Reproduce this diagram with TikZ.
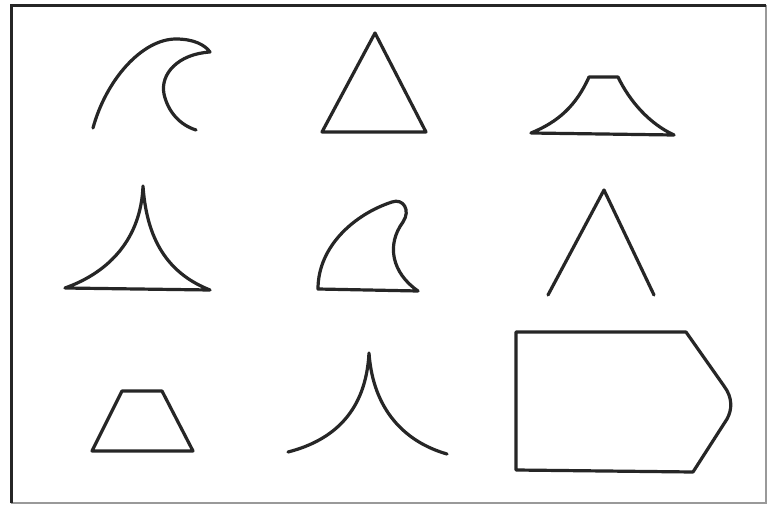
\documentclass[tikz,border=0pt]{standalone}
\begin{document}
\begin{tikzpicture}[x=1pt,y=-1pt,
  shape line/.style={draw=black!85, line width=3.2pt, line join=round, line cap=round},
  frame dark/.style={draw=black!85, line width=3pt},
  frame light/.style={draw=black!40, line width=1.4pt}]
\useasboundingbox (0,0) rectangle (772,506);
\fill[white] (0,0) rectangle (772,506);
% frame
\coordinate (fTL) at (11,5);
\coordinate (fTR) at (766,5);
\coordinate (fBL) at (11,503);
\coordinate (fBR) at (766,503);
\draw[frame light] (fTR) -- (fBR) -- (fBL);
\draw[frame dark] (fBL) -- (fTL) -- (fTR);
% 1 wave
\draw[shape line] (93,128) .. controls (106,80) and (142,39) .. (176,39)
  .. controls (194,39) and (205,45) .. (210,52)
  .. controls (178,54) and (160,74) .. (164,94)
  .. controls (168,112) and (180,125) .. (196,130);
% 2 triangle
\draw[shape line] (375,33) -- (322,132) -- (426,132) -- cycle;
% 3 mount
\draw[shape line] (589,77) -- (618,77)
  .. controls (630,102) and (650,124) .. (674,135)
  -- (531,133)
  .. controls (558,122) and (576,106) .. (589,77) -- cycle;
% 4 cusped triangle
\draw[shape line] (143,186) .. controls (141,238) and (110,272) .. (65,288)
  -- (210,290) .. controls (172,275) and (147,245) .. (143,186);
% 5 fin
\draw[shape line] (318,289) .. controls (318,246) and (355,214) .. (392,202)
  .. controls (403,198) and (411,210) .. (403,222)
  .. controls (386,245) and (392,273) .. (418,291) -- cycle;
% 6 inverted V
\draw[shape line] (548,295) -- (604,190) -- (654,295);
% 7 trapezoid
\draw[shape line] (122,391) -- (162,391) -- (193,451) -- (92,451) -- cycle;
% 8 open cusp
\draw[shape line] (288,452) .. controls (335,440) and (366,410) .. (369,353)
  .. controls (373,410) and (405,442) .. (447,454);
% 9 pentagon
\draw[shape line] (516,332) -- (686,332) -- (724,386)
  .. controls (733,398) and (732,410) .. (727,419)
  -- (693,472) -- (516,470) -- cycle;
\end{tikzpicture}
\end{document}
